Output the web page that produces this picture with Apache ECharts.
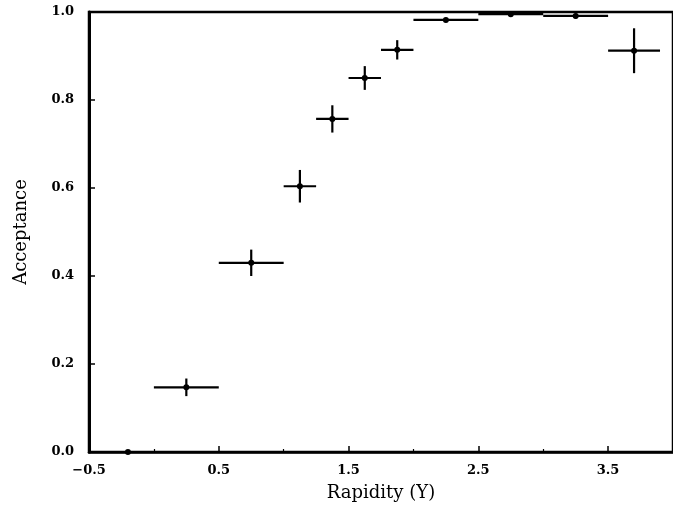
<!DOCTYPE html>
<html>
<head>
<meta charset="utf-8">
<script src="https://cdn.jsdelivr.net/npm/echarts@6/dist/echarts.min.js"></script>
<style>
  html, body { margin: 0; padding: 0; background: #fff; }
  #chart { width: 673px; height: 509px; }
</style>
</head>
<body>
<div id="chart"></div>
<script>
// rapidity bin centres and half widths
var rapidity = [-0.2, 0.25, 0.75, 1.125, 1.375, 1.625, 1.875, 2.25, 2.75, 3.25, 3.7];
var rapidityErr = [0, 0.25, 0.25, 0.125, 0.125, 0.125, 0.125, 0.25, 0.25, 0.25, 0.2];
// acceptance and its error
var acceptance = [0.0, 0.147, 0.430, 0.604, 0.757, 0.850, 0.914, 0.982, 0.995, 0.991, 0.912];
var acceptanceErr = [0, 0.02, 0.03, 0.037, 0.031, 0.027, 0.022, 0.005, 0.004, 0.006, 0.051];

var xTicks = [-0.5, 0.5, 1.5, 2.5, 3.5];
var yTicks = [0.0, 0.2, 0.4, 0.6, 0.8, 1.0];

var serif = '"DejaVu Serif", "Liberation Serif", serif';

var points = [];
for (var i = 0; i < rapidity.length; i++) {
    points.push([rapidity[i], acceptance[i], rapidityErr[i], acceptanceErr[i]]);
}

function fmt(v) {
    var s = v.toFixed(1);
    return s.replace('-', '\u2212');
}

function renderBar(params, api) {
    var x = api.value(0), y = api.value(1), dx = api.value(2), dy = api.value(3);
    var l = api.coord([x - dx, y]);
    var r = api.coord([x + dx, y]);
    var t = api.coord([x, y + dy]);
    var b = api.coord([x, y - dy]);
    var c = api.coord([x, y]);
    var style = { stroke: '#000', lineWidth: 2.2 };
    var children = [];
    if (dx > 0) children.push({ type: 'line', shape: { x1: l[0], y1: l[1], x2: r[0], y2: r[1] }, style: style });
    if (dy > 0) children.push({ type: 'line', shape: { x1: t[0], y1: t[1], x2: b[0], y2: b[1] }, style: style });
    children.push({ type: 'circle', shape: { cx: c[0], cy: c[1], r: 3 }, style: { fill: '#000' } });
    return { type: 'group', children: children };
}

var chart = echarts.init(document.getElementById('chart'));
chart.setOption({
    animation: false,
    grid: {
        left: 89, top: 12, bottom: 57, right: -8,
        show: true, borderColor: '#000', borderWidth: 2.5, backgroundColor: 'transparent'
    },
    xAxis: {
        type: 'value',
        min: xTicks[0], max: 4.0, interval: 1,
        name: 'Rapidity (Y)',
        nameLocation: 'middle',
        nameGap: 32,
        nameTextStyle: { fontFamily: serif, fontSize: 18, color: '#000' },
        axisLine: { show: true, onZero: false, lineStyle: { color: '#000', width: 2.5 } },
        axisTick: { show: true, inside: true, length: 6, lineStyle: { color: '#000', width: 1.5 } },
        minorTick: { show: true, splitNumber: 2, length: 3, lineStyle: { color: '#000', width: 1.2 } },
        axisLabel: {
            showMaxLabel: false, margin: 12,
            fontFamily: serif, fontSize: 13, fontWeight: 'bold', color: '#000',
            formatter: fmt
        },
        splitLine: { show: false }
    },
    yAxis: {
        type: 'value',
        min: yTicks[0], max: yTicks[yTicks.length - 1], interval: 0.2,
        name: 'Acceptance',
        nameLocation: 'middle',
        nameGap: 59,
        nameTextStyle: { fontFamily: serif, fontSize: 18, color: '#000' },
        axisLine: { show: true, onZero: false, lineStyle: { color: '#000', width: 3 } },
        axisTick: { show: true, inside: true, length: 6, lineStyle: { color: '#000', width: 1.5 } },
        axisLabel: {
            margin: 15,
            fontFamily: serif, fontSize: 13, fontWeight: 'bold', color: '#000',
            formatter: fmt
        },
        splitLine: { show: false }
    },
    series: [{
        type: 'custom',
        data: points,
        renderItem: renderBar,
        clip: false,
        encode: { x: 0, y: 1 }
    }]
});
</script>
</body>
</html>
